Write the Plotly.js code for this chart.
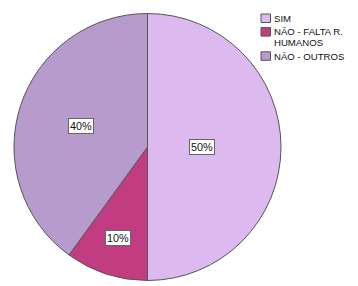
<!DOCTYPE html>
<html><head><meta charset="utf-8">
<script src="https://cdn.plot.ly/plotly-3.0.1.min.js"></script>
<style>html,body{margin:0;padding:0;background:#fff}</style>
</head><body><div id="chart" style="width:358px;height:286px"></div>
<script>
const categories = ["SIM", "NÃO - FALTA R.\nHUMANOS", "NÃO - OUTROS"];
const values = [50, 10, 40];
const colors = ["#dcb9ee", "#c13c80", "#b89bcd"];
const labelRadius = [0.41, 0.72, 0.52];

const W = 358, H = 286;
const cx = 147.5, cy = 139, R = 133.5;
const FONT = "Liberation Sans, Arial, sans-serif";
const total = values.reduce((a, b) => a + b, 0);
const annotations = [];
const shapes = [];
let cum = 0;
values.forEach((v, i) => {
  const mid = (cum + v / 2) / total * 2 * Math.PI;
  cum += v;
  const r = R * labelRadius[i];
  annotations.push({
    xref: "paper", yref: "paper", xanchor: "center", yanchor: "middle",
    x: (cx + r * Math.sin(mid)) / W,
    y: (cy + r * Math.cos(mid)) / H,
    text: Math.round(v / total * 100) + "%",
    showarrow: false,
    bgcolor: "#ffffff", bordercolor: "#666666", borderwidth: 1, borderpad: 1,
    font: {family: FONT, size: 10.8, color: "#111"}
  });
});

// custom compact legend (pixel layout converted to paper coords)
const legX = 261, legTextX = 273, sqW = 9.5, sqH = 8.5, lineH = 10.6, gap = 3;
let rowTop = 14;
categories.forEach((c, i) => {
  const lines = c.split("\n");
  shapes.push({
    type: "rect", xref: "paper", yref: "paper",
    x0: legX / W, x1: (legX + sqW) / W,
    y0: 1 - rowTop / H, y1: 1 - (rowTop + sqH) / H,
    fillcolor: colors[i], line: {color: "#555555", width: 1}
  });
  lines.forEach((ln, k) => {
    annotations.push({
      xref: "paper", yref: "paper", xanchor: "left", yanchor: "middle",
      x: legTextX / W, y: 1 - (rowTop + 4.3 + k * lineH) / H,
      text: ln, showarrow: false, borderpad: 0,
      font: {family: FONT, size: 9.6, color: "#111"}
    });
  });
  rowTop += lines.length * lineH + gap;
});

Plotly.newPlot("chart", [{
  type: "pie",
  labels: categories.map(c => c.replace("\n", " ")),
  values: values,
  sort: false,
  direction: "clockwise",
  rotation: 0,
  marker: {colors: colors, line: {color: "#555555", width: 1}},
  textinfo: "none",
  hoverinfo: "none",
  showlegend: false,
  domain: {x: [(cx - R) / W, (cx + R) / W], y: [(cy - R) / H, (cy + R) / H]}
}], {
  width: W, height: H,
  margin: {l: 0, r: 0, t: 0, b: 0},
  paper_bgcolor: "#ffffff",
  showlegend: false,
  shapes: shapes,
  annotations: annotations
}, {staticPlot: true, displayModeBar: false});
</script></body></html>
